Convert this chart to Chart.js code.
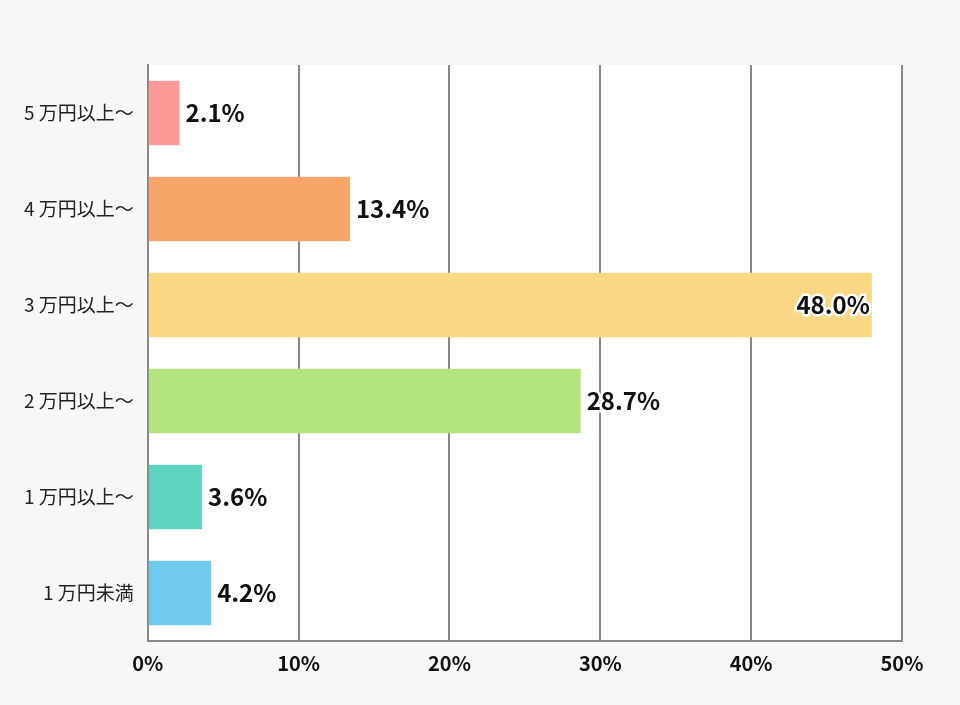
<!DOCTYPE html>
<html><head><meta charset="utf-8">
<script src="https://cdn.jsdelivr.net/npm/chart.js@4"></script>
<style>
  html,body{margin:0;background:#f7f7f7;}
</style>
</head><body>
<canvas id="c" width="960" height="705"></canvas>
<script>
    // data
    var categories = ['5 万円以上～','4 万円以上～','3 万円以上～','2 万円以上～','1 万円以上～','1 万円未満'];
    var values     = [2.1, 13.4, 48.0, 28.7, 3.6, 4.2];
    var colors     = ['#ff9a9b','#f9a66b','#f8d885','#b5e380','#5dd3c0','#6fcaee'];
    var xTicks     = [0, 10, 20, 30, 40, 50];

    var FONT = '"Noto Sans CJK JP", "Noto Sans", sans-serif';

    // white plot background
    var plotBg = {
        id: 'plotBg',
        beforeDraw: function(chart){
            var a = chart.chartArea, ctx = chart.ctx;
            ctx.save();
            ctx.fillStyle = '#ffffff';
            ctx.fillRect(a.left, a.top, a.right - a.left, a.bottom - a.top);
            ctx.restore();
        }
    };

    // value labels at bar ends
    var valueLabels = {
        id: 'valueLabels',
        afterDatasetsDraw: function(chart){
            var ctx = chart.ctx;
            var meta = chart.getDatasetMeta(0);
            ctx.save();
            ctx.font = 'bold 24px ' + FONT;
            ctx.textBaseline = 'middle';
            meta.data.forEach(function(bar, i){
                var txt = values[i].toFixed(1) + '%';
                var w = ctx.measureText(txt).width;
                var x = bar.x + 6;
                if (x + w > chart.chartArea.right) x = bar.x - w - 2;
                ctx.lineWidth = 5;
                ctx.strokeStyle = '#ffffff';
                ctx.lineJoin = 'round';
                ctx.strokeText(txt, x, bar.y);
                ctx.fillStyle = '#111111';
                ctx.fillText(txt, x, bar.y);
            });
            ctx.restore();
        }
    };

    new Chart(document.getElementById('c'), {
        type: 'bar',
        data: {
            labels: categories,
            datasets: [{
                data: values,
                backgroundColor: colors,
                borderWidth: 0,
                categoryPercentage: 1.0,
                barPercentage: 0.67
            }]
        },
        options: {
            indexAxis: 'y',
            responsive: false,
            animation: false,
            devicePixelRatio: 1,
            layout: { padding: { top: 65, right: 58, bottom: 20, left: 10 } },
            plugins: { legend: { display: false }, tooltip: { enabled: false } },
            scales: {
                x: {
                    min: 0, max: 50,
                    afterBuildTicks: function(ax){ ax.ticks = xTicks.map(function(v){ return { value: v }; }); },
                    ticks: {
                        callback: function(v){ return v + '%'; },
                        color: '#111', font: { family: FONT, size: 20, weight: 'bold' }, padding: 10
                    },
                    grid: { color: '#888888', lineWidth: 2, drawTicks: false },
                    border: { color: '#888888', width: 2 }
                },
                y: {
                    ticks: { color: '#222', font: { family: FONT, size: 19 }, padding: 14 },
                    grid: { display: false, drawTicks: false },
                    border: { color: '#888888', width: 2 }
                }
            }
        },
        plugins: [plotBg, valueLabels]
    });
</script>
</body></html>
